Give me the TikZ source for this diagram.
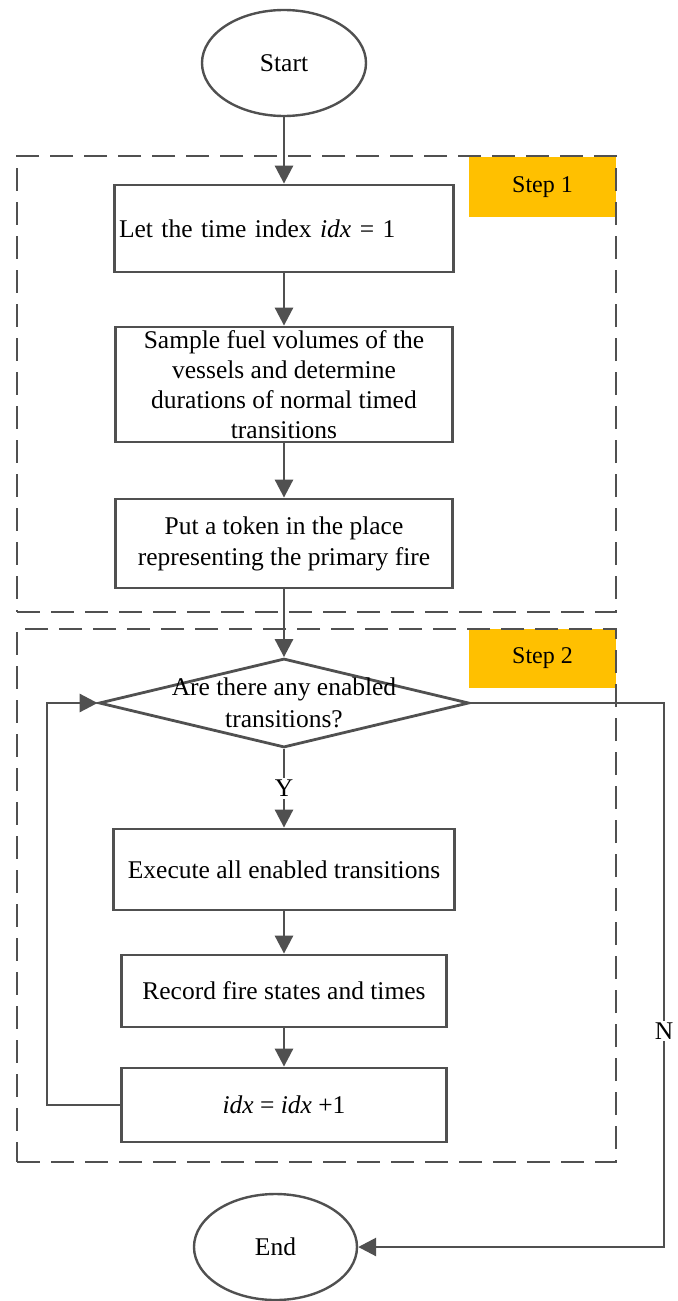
\documentclass[tikz,border=0pt]{standalone}
\usepackage{fontspec}
\setmainfont{Liberation Serif}
\usetikzlibrary{shapes.geometric,arrows.meta}
\definecolor{linegray}{HTML}{505050}
\definecolor{stepgold}{HTML}{FFC000}
\tikzset{
  every node/.style={font=\fontsize{12.75}{15}\selectfont, text=black},
  procbox/.style={draw=linegray, line width=1.4pt, rectangle, inner xsep=2pt, inner ysep=1pt, align=center},
  term/.style={draw=linegray, line width=1.2pt, ellipse, minimum width=82pt, minimum height=53pt, inner sep=0pt},
  decision/.style={draw=linegray, line width=1.4pt, diamond, minimum width=185pt, minimum height=44.5pt, inner sep=0pt},
  frame/.style={draw=linegray, line width=1.3pt, dash pattern=on 11.5pt off 5.5pt, rectangle, inner sep=0pt},
  steplabel/.style={fill=stepgold, minimum width=73.5pt, minimum height=30pt, inner sep=0pt, font=\fontsize{12}{14}\selectfont},
  arr/.style={draw=linegray, line width=1.4pt, -{Triangle[length=9pt,width=9pt]}},
  lbl/.style={fill=white, inner sep=1pt},
}
\begin{document}
\begin{tikzpicture}[x=0.5pt,y=-0.5pt]
\useasboundingbox (0,0) rectangle (678,1301);
% step labels
\node[steplabel] (lab1) at (542.5,187) {Step 1};
\node[steplabel, minimum height=29.5pt] (lab2) at (542.5,658.5) {Step 2};
% dashed frames
\node[frame, minimum width=299.5pt, minimum height=228pt] (frame1) at (316.5,384) {};
\node[frame, minimum width=299.5pt, minimum height=266.5pt] (frame2) at (316.5,895.5) {};
% terminals
\node[term] (start) at (284,63) {Start};
\node[term, minimum width=81.5pt] (end) at (275.5,1247) {End};
% process boxes
\node[procbox, minimum width=169.5pt, minimum height=43.5pt, text width=165pt, align=left] (b1) at (284,228.5) {Let the time index \textit{idx} = 1};
\node[procbox, minimum width=168.5pt, minimum height=57.5pt, inner ysep=0pt] (b2) at (284,384.5) {Sample fuel volumes of the\\vessels and determine\\durations of normal timed\\transitions};
\node[procbox, minimum width=168.5pt, minimum height=44.5pt, font=\fontsize{12.75}{15.5}\selectfont] (b3) at (284,543.5) {Put a token in the place\\representing the primary fire};
\node[decision] (dec) at (284,703) {};
\node[align=center, font=\fontsize{12.75}{16}\selectfont] (dectext) at (284,703) {Are there any enabled\\transitions?};
\node[procbox, minimum width=170.5pt, minimum height=40.5pt] (exec) at (284,869.5) {Execute all enabled transitions};
\node[procbox, minimum width=162.5pt, minimum height=36pt] (rec) at (284,991) {Record fire states and times};
\node[procbox, minimum width=162.5pt, minimum height=37pt] (inc) at (284,1105) {\textit{idx} = \textit{idx} +1};
% helper coordinates
\coordinate (nl) at (47,703);
\coordinate (nr) at (664,703);
% connectors
\draw[arr] (start) -- (b1);
\draw[arr] (b1) -- (b2);
\draw[arr] (b2) -- (b3);
\draw[arr] (b3) -- (dec);
\draw[arr] (dec) -- node[lbl] (ylab) {Y} (exec);
\draw[arr] (exec) -- (rec);
\draw[arr] (rec) -- (inc);
\draw[arr] (inc.west) -- (nl |- inc.west) -- (nl) -- (dec.west);
\draw[arr] (dec.east) -- (nr) -- node[lbl, pos=0.603] (nlab) {N} (nr |- end.east) -- (end.east);
\end{tikzpicture}
\end{document}
